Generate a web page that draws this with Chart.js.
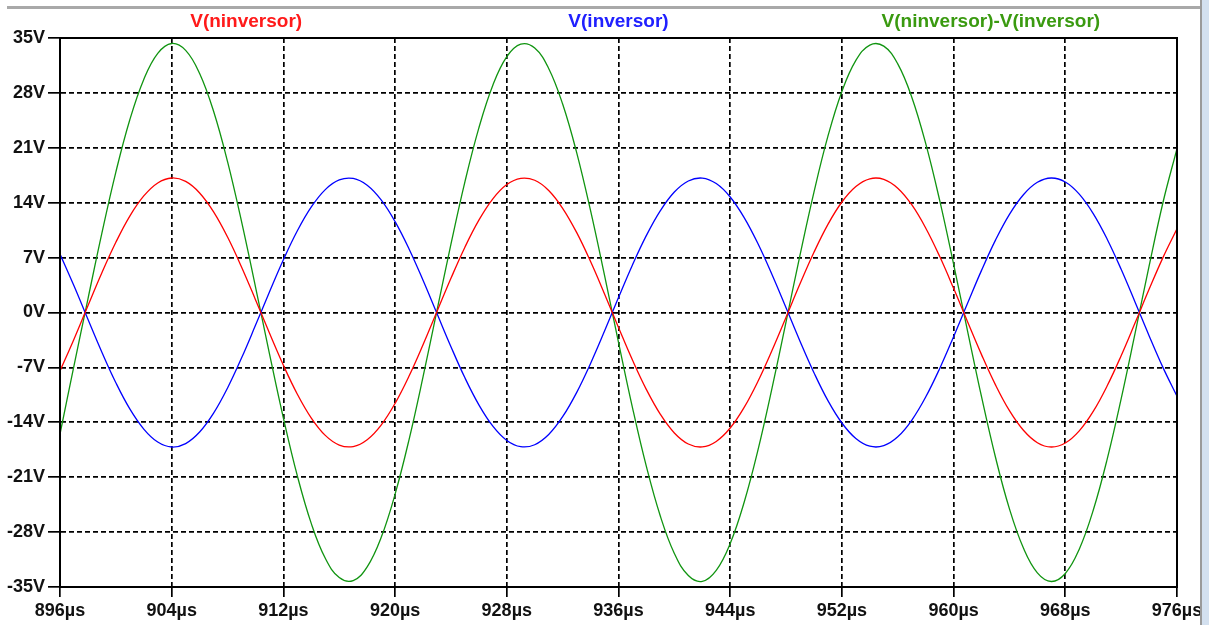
<!DOCTYPE html>
<html>
<head>
<meta charset="utf-8">
<script src="https://cdn.jsdelivr.net/npm/chart.js@4"></script>
<style>
  html, body { margin: 0; padding: 0; background: #fff; }
  #wrap { position: relative; width: 1209px; height: 625px; }
  #topline { position: absolute; left: 7px; top: 6px; width: 1193px; height: 3px; background: #a9a9a9; }
  #sidebar { position: absolute; left: 1200px; top: 0; width: 9px; height: 625px; background: #d3e0ef; border-left: 2px solid #9a9a9a; box-sizing: border-box; }
</style>
</head>
<body>
<div id="wrap">
  <canvas id="plot"></canvas>
  <div id="topline"></div>
  <div id="sidebar"></div>
</div>
<script>
// time axis (µs)
const tiempos = [896,897,898,899,900,901,902,903,904,905,906,907,908,909,910,911,912,913,914,915,
  916,917,918,919,920,921,922,923,924,925,926,927,928,929,930,931,932,933,934,935,
  936,937,938,939,940,941,942,943,944,945,946,947,948,949,950,951,952,953,954,955,
  956,957,958,959,960,961,962,963,964,965,966,967,968,969,970,971,972,973,974,975,976];

// V(ninversor)
const vNinversor = [-7.45,-3.40,0.86,5.06,8.95,12.29,14.86,16.52,17.15,16.71,
  15.24,12.83,9.62,5.81,1.64,-2.62,-6.73,-10.42,-13.46,-15.67,
  -16.90,-17.09,-16.22,-14.35,-11.58,-8.10,-4.11,0.13,4.36,8.33,
  11.77,14.49,16.31,17.11,16.86,15.56,13.29,10.21,6.49,2.37,
  -1.90,-6.06,-9.83,-12.99,-15.36,-16.77,-17.14,-16.44,-14.73,-12.10,
  -8.73,-4.81,-0.60,3.66,7.68,11.24,14.09,16.07,17.05,16.98,
  15.85,13.74,10.78,7.16,3.08,-1.18,-5.37,-9.23,-12.52,-15.02,
  -16.60,-17.15,-16.64,-15.09,-12.61,-9.35,-5.51,-1.32,2.95,7.03,10.68];

// V(inversor)
const vInversor = [7.45,3.40,-0.86,-5.06,-8.95,-12.29,-14.86,-16.52,-17.15,-16.71,
  -15.24,-12.83,-9.62,-5.81,-1.64,2.62,6.73,10.42,13.46,15.67,
  16.90,17.09,16.22,14.35,11.58,8.10,4.11,-0.13,-4.36,-8.33,
  -11.77,-14.49,-16.31,-17.11,-16.86,-15.56,-13.29,-10.21,-6.49,-2.37,
  1.90,6.06,9.83,12.99,15.36,16.77,17.14,16.44,14.73,12.10,
  8.73,4.81,0.60,-3.66,-7.68,-11.24,-14.09,-16.07,-17.05,-16.98,
  -15.85,-13.74,-10.78,-7.16,-3.08,1.18,5.37,9.23,12.52,15.02,
  16.60,17.15,16.64,15.09,12.61,9.35,5.51,1.32,-2.95,-7.03,-10.68];

// V(ninversor)-V(inversor)
const vDiferencia = [-15.5,-6.8,1.72,10.12,17.9,24.58,29.72,33.04,34.3,33.42,
  30.48,25.66,19.24,11.62,3.28,-5.24,-13.46,-20.84,-26.92,-31.34,
  -33.8,-34.18,-32.44,-28.7,-23.16,-16.2,-8.22,0.26,8.72,16.66,
  23.54,28.98,32.62,34.22,33.72,31.12,26.58,20.42,12.98,4.74,
  -3.8,-12.12,-19.66,-25.98,-30.72,-33.54,-34.28,-32.88,-29.46,-24.2,
  -17.46,-9.62,-1.2,7.32,15.36,22.48,28.18,32.14,34.1,33.96,
  31.7,27.48,21.56,14.32,6.16,-2.36,-10.74,-18.46,-25.04,-30.04,
  -33.2,-34.3,-33.28,-30.18,-25.22,-18.7,-11.02,-2.64,5.9,14.06,20.9];

const nombres = ['V(ninversor)', 'V(inversor)', 'V(ninversor)-V(inversor)'];
const colores = ['#ff0000', '#0000ff', '#109410'];
const coloresTexto = ['#ff1a1a', '#2020ff', '#3a9a10'];

const toPts = arr => arr.map((v, i) => ({ x: tiempos[i], y: v }));

// nombres de trazas arriba, centrados en tercios del area
const trazaLabels = {
  id: 'trazaLabels',
  afterDraw(chart) {
    const { ctx, chartArea } = chart;
    const w = (chartArea.right - chartArea.left) / 3;
    ctx.save();
    ctx.font = 'bold 19px "Liberation Sans", Arial, sans-serif';
    ctx.textAlign = 'center';
    ctx.textBaseline = 'middle';
    nombres.forEach((n, i) => {
      ctx.fillStyle = coloresTexto[i];
      ctx.fillText(n, chartArea.left + w * (i + 0.5), 22);
    });
    ctx.restore();
  }
};

const fuente = { family: '"Liberation Sans", Arial, sans-serif', size: 18, weight: 'bold' };

new Chart(document.getElementById('plot').getContext('2d'), {
  type: 'line',
  data: {
    datasets: [vNinversor, vInversor, vDiferencia].map((d, i) => ({
      label: nombres[i],
      data: toPts(d),
      borderColor: colores[i],
      borderWidth: 1.3,
      pointRadius: 0,
      tension: 0.4,
      fill: false
    }))
  },
  options: {
    responsive: true,
    maintainAspectRatio: false,
    animation: false,
    layout: { padding: { top: 38, right: 32, left: 0, bottom: 0 } },
    plugins: {
      legend: { display: false },
      tooltip: { enabled: false }
    },
    scales: {
      x: {
        type: 'linear',
        min: 896,
        max: 976,
        afterFit: s => { s.height = 38; },
        ticks: {
          stepSize: 8,
          color: '#111',
          font: fuente,
          padding: 3,
          maxRotation: 0,
          callback: v => v + 'µs'
        },
        grid: {
          color: '#000',
          lineWidth: 1.7,
          tickBorderDash: [],
          tickLength: 10,
          tickWidth: 1.7,
          tickColor: '#000'
        },
        border: { display: true, color: '#000', width: 2, dash: [5, 3] }
      },
      y: {
        min: -35,
        max: 35,
        afterFit: s => { s.width = 60; },
        ticks: {
          stepSize: 7,
          color: '#111',
          font: fuente,
          padding: 3,
          callback: v => v + 'V'
        },
        grid: {
          color: '#000',
          lineWidth: 1.7,
          tickBorderDash: [],
          tickLength: 12,
          tickWidth: 1.7,
          tickColor: '#000'
        },
        border: { display: true, color: '#000', width: 2, dash: [5, 3] }
      }
    }
  },
  plugins: [trazaLabels, {
    id: 'marco',
    afterDatasetsDraw(chart) {
      const { ctx, chartArea: a } = chart;
      ctx.save();
      ctx.strokeStyle = '#000';
      ctx.lineWidth = 2;
      ctx.setLineDash([]);
      ctx.strokeRect(a.left, a.top, a.right - a.left, a.bottom - a.top);
      ctx.restore();
    }
  }]
});
</script>
</body>
</html>
